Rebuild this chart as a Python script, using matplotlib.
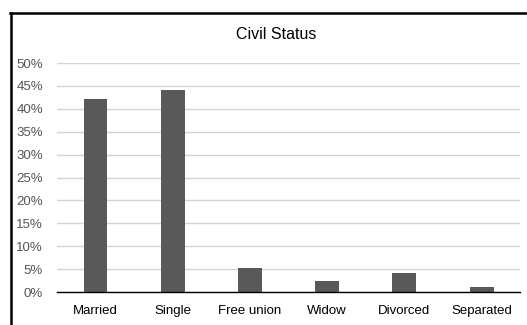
import numpy as np
import matplotlib
matplotlib.use('Agg')
import matplotlib.pyplot as plt
from matplotlib.lines import Line2D
from matplotlib.ticker import FuncFormatter

# Data
categories = ['Married', 'Single', 'Free union', 'Widow', 'Divorced', 'Separated']
shares = [42.1, 44.1, 5.2, 2.3, 4.1, 1.0]
y_ticks = [0, 5, 10, 15, 20, 25, 30, 35, 40, 45, 50]

plt.rcParams['font.family'] = ['Liberation Sans', 'DejaVu Sans']

fig = plt.figure(figsize=(5.27, 3.25), dpi=100)
ax = fig.add_axes([0.108, 0.1015, 0.879, 0.7045])

x = np.arange(len(categories))
ax.bar(x, shares, width=0.31, color='#595959', zorder=3)

ax.set_xlim(-0.5, len(categories) - 0.5)
ax.set_ylim(0, 50)
ax.set_yticks(y_ticks)
ax.yaxis.set_major_formatter(FuncFormatter(lambda v, p: f'{v:.0f}%'))
ax.set_xticks(x)
ax.set_xticklabels(categories)

ax.grid(axis='y', color='#d4d4d4', linewidth=1, zorder=0)
for side in ['top', 'right', 'left']:
    ax.spines[side].set_visible(False)
ax.spines['bottom'].set_color('black')
ax.spines['bottom'].set_linewidth(1)
ax.spines['bottom'].set_zorder(4)

ax.tick_params(axis='y', length=0, pad=10, labelsize=9.5, labelcolor='#555555')
ax.tick_params(axis='x', length=0, pad=9.5, labelsize=9.5, labelcolor='black')

fig.text(0.524, 0.895, 'Civil Status', ha='center', va='center', fontsize=11.5)

# frame lines on the top and left
fig.add_artist(Line2D([0.019, 1.0], [0.9615, 0.9615], color='black', linewidth=1.8))
fig.add_artist(Line2D([0.02, 0.02], [0.0, 0.9615], color='black', linewidth=1.8))

fig.savefig('out.png', dpi=100)
